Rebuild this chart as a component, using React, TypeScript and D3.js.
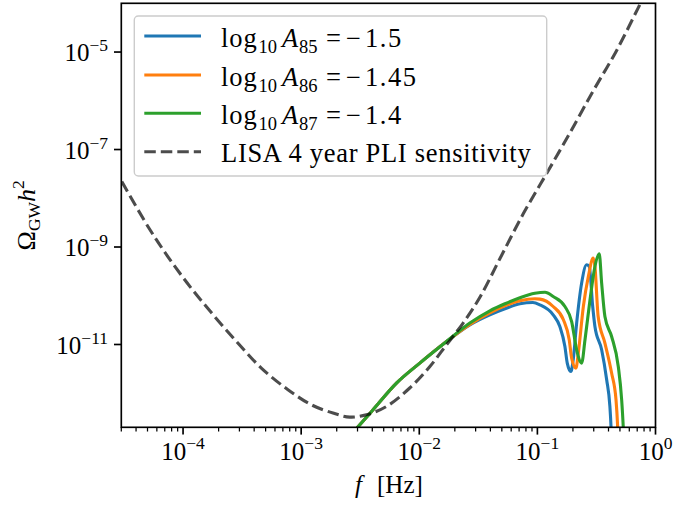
import React from 'react';
import * as d3 from 'd3';

// LISA 4-year power-law-integrated sensitivity
const lisaFreq = [3.03e-5, 5.04e-5, 7.43e-5, 1.17e-4, 1.85e-4, 2.91e-4, 4.6e-4, 7.73e-4, 1.22e-3, 1.86e-3, 2.58e-3, 3.57e-3, 5.27e-3, 8.3e-3, 1.23e-2, 1.7e-2, 2.35e-2, 3.26e-2, 4.81e-2, 7.59e-2, 0.12, 0.188, 0.297, 0.469, 0.714, 0.8];
const lisaOmega = [2.21e-8, 2.64e-9, 6.38e-10, 1.44e-10, 3.75e-11, 1.07e-11, 3.28e-12, 1.18e-12, 5.79e-13, 3.92e-13, 3.24e-13, 3.61e-13, 5.35e-13, 1.28e-12, 3.54e-12, 9.86e-12, 2.75e-11, 9.29e-11, 5.73e-10, 4.8e-9, 3.25e-8, 2.17e-7, 1.6e-6, 1.08e-5, 8.07e-5, 1.4e-4];

// log10 A85 = -1.5
const freqA85 = [2.69e-3, 3.03e-3, 4.06e-3, 6.41e-3, 1.01e-2, 1.7e-2, 2.68e-2, 3.96e-2, 5.31e-2, 7.11e-2, 9.16e-2, 0.105, 0.136, 0.155, 0.171, 0.179, 0.192, 0.201, 0.215, 0.237, 0.261, 0.275, 0.294, 0.307, 0.35, 0.386, 0.411, 0.42, 0.424];
const omegaA85 = [1.48e-13, 2.05e-13, 4.58e-13, 1.61e-12, 4.15e-12, 1.15e-11, 2.53e-11, 4.07e-11, 5.4e-11, 6.84e-11, 7.28e-11, 6.52e-11, 4.07e-11, 2.34e-11, 9.1e-12, 4.15e-12, 2.79e-12, 4.85e-12, 2.75e-11, 1.82e-10, 4.31e-10, 3.98e-10, 6.01e-11, 2.34e-11, 7.78e-12, 1.89e-12, 5.35e-13, 2.08e-13, 1.11e-13];

// log10 A86 = -1.45
const freqA86 = [2.69e-3, 3.03e-3, 4.06e-3, 6.41e-3, 1.01e-2, 1.7e-2, 2.68e-2, 3.96e-2, 5.31e-2, 7.11e-2, 9.52e-2, 0.105, 0.136, 0.166, 0.186, 0.195, 0.212, 0.222, 0.245, 0.27, 0.297, 0.307, 0.327, 0.373, 0.425, 0.463, 0.478, 0.483];
const omegaA86 = [1.48e-13, 2.05e-13, 4.58e-13, 1.61e-12, 4.15e-12, 1.15e-11, 2.59e-11, 4.47e-11, 6.22e-11, 7.87e-11, 8.65e-11, 8.53e-11, 6.02e-11, 3.21e-11, 1.25e-11, 5.26e-12, 3.28e-12, 6.66e-12, 6.02e-11, 2.48e-10, 5.92e-10, 3.98e-10, 3.75e-11, 1.07e-11, 2.59e-12, 7.35e-13, 2.08e-13, 1.11e-13];

// log10 A87 = -1.4
const freqA87 = [2.69e-3, 3.03e-3, 4.06e-3, 6.41e-3, 1.01e-2, 1.7e-2, 2.68e-2, 3.96e-2, 5.31e-2, 7.11e-2, 9.52e-2, 0.116, 0.136, 0.171, 0.195, 0.215, 0.237, 0.253, 0.279, 0.307, 0.334, 0.35, 0.373, 0.425, 0.484, 0.517, 0.533, 0.539];
const omegaA87 = [1.48e-13, 2.05e-13, 4.58e-13, 1.61e-12, 4.15e-12, 1.15e-11, 2.75e-11, 4.91e-11, 6.84e-11, 9.08e-11, 1.12e-10, 1.18e-10, 9.66e-11, 6.02e-11, 2.96e-11, 7.78e-12, 4.15e-12, 1.25e-11, 8.26e-11, 3.98e-10, 7.26e-10, 1.82e-10, 3.75e-11, 1.46e-11, 3.54e-12, 7.35e-13, 2.08e-13, 1.11e-13];

const seriesIndex = ['85', '86', '87'];
const seriesValues = ['1.5', '1.45', '1.4'];
const seriesColors = ['#1f77b4', '#ff7f0e', '#2ca02c'];
const lisaLabel = 'LISA 4 year PLI sensitivity';

const xDomain = [3e-5, 1];
const yDomain = [2e-13, 1e-4];
const xMajorTicks = [1e-4, 1e-3, 1e-2, 1e-1, 1];
const xMajorExp = ['−4', '−3', '−2', '−1', '0'];
const yMajorTicks = [1e-5, 1e-7, 1e-9, 1e-11];
const yMajorExp = ['−5', '−7', '−9', '−11'];

const W = 674;
const H = 506;
const PL = 121.3, PR = 655.5, PT = 3.3, PB = 427.3;
const FONT = '"Liberation Serif", "DejaVu Serif", serif';
const FS = 25;
const SFS = 17.5;
const LFS = 26.5;
const LSFS = 18.5;

export default function App() {
  const x = d3.scaleLog().domain(xDomain).range([PL, PR]);
  const y = d3.scaleLog().domain(yDomain).range([PB, PT]);
  const line = d3
    .line<[number, number]>()
    .x((d) => x(d[0]))
    .y((d) => y(d[1]))
    .curve(d3.curveMonotoneX);
  const smoothLine = d3
    .line<[number, number]>()
    .x((d) => x(d[0]))
    .y((d) => y(d[1]))
    .curve(d3.curveCatmullRom.alpha(0.5));

  const zip = (a: number[], b: number[]) => a.map((v, i) => [v, b[i]] as [number, number]);
  const series = [zip(freqA85, omegaA85), zip(freqA86, omegaA86), zip(freqA87, omegaA87)];
  const lisa = zip(lisaFreq, lisaOmega);

  const allXTicks = x.ticks();
  const minorX = allXTicks.filter((t) => Math.abs(Math.log10(t) - Math.round(Math.log10(t))) > 1e-6);

  const legendRows = [36, 75, 113.3, 151.7];

  return (
    <svg width={W} height={H} style={{ position: 'absolute', left: 0, top: 0, background: '#fff' }} fontFamily={FONT}>
      <defs>
        <clipPath id="plotclip">
          <rect x={PL} y={PT} width={PR - PL} height={PB - PT} />
        </clipPath>
      </defs>
      <rect x={0} y={0} width={W} height={H} fill="#fff" />
      <g clipPath="url(#plotclip)">
        {series.map((s, i) => (
          <path key={i} d={line(s) || ''} fill="none" stroke={seriesColors[i]} strokeWidth={3.1} strokeLinejoin="round" />
        ))}
        <path d={smoothLine(lisa) || ''} fill="none" stroke="#000" strokeOpacity={0.7} strokeWidth={3.1} strokeDasharray="11.5,5" />
      </g>
      {/* frame */}
      <rect x={PL} y={PT} width={PR - PL} height={PB - PT} fill="none" stroke="#000" strokeWidth={1.67} />
      {/* x ticks */}
      {minorX.map((t, i) => (
        <line key={'mx' + i} x1={x(t)} x2={x(t)} y1={PB} y2={PB + 4.2} stroke="#000" strokeWidth={1.25} />
      ))}
      {xMajorTicks.map((t, i) => (
        <g key={'x' + i}>
          <line x1={x(t)} x2={x(t)} y1={PB} y2={PB + 7.3} stroke="#000" strokeWidth={1.67} />
          <text x={x(t)} y={459.7} textAnchor="middle" fontSize={FS}>
            <tspan>10</tspan>
            <tspan dy={-11} fontSize={SFS}>{xMajorExp[i]}</tspan>
          </text>
        </g>
      ))}
      {/* y ticks */}
      {yMajorTicks.map((t, i) => (
        <g key={'y' + i}>
          <line x1={PL} x2={PL - 7.3} y1={y(t)} y2={y(t)} stroke="#000" strokeWidth={1.67} />
          <text x={108} y={y(t) + 9.2} textAnchor="end" fontSize={FS}>
            <tspan>10</tspan>
            <tspan dy={-10} fontSize={SFS}>{yMajorExp[i]}</tspan>
          </text>
        </g>
      ))}
      {/* axis labels */}
      <text y={492.5} fontSize={FS}>
        <tspan x={355} fontStyle="italic">f</tspan>
        <tspan x={377}>[Hz]</tspan>
      </text>
      <text transform={`translate(35, ${(PT + PB) / 2}) rotate(-90)`} textAnchor="middle" fontSize={26}>
        <tspan>Ω</tspan>
        <tspan dy={5} fontSize={SFS}>GW</tspan>
        <tspan dy={-5} fontStyle="italic">h</tspan>
        <tspan dy={-11} fontSize={SFS}>2</tspan>
      </text>
      {/* legend */}
      <rect x={134.3} y={16} width={412.4} height={160} rx={4} ry={4} fill="#fff" fillOpacity={0.8} stroke="#cccccc" strokeWidth={1.4} />
      {seriesColors.map((c, i) => {
        const yb = legendRows[i] + 10.5;
        return (
          <g key={'lg' + i}>
            <line x1={144.3} x2={201} y1={legendRows[i]} y2={legendRows[i]} stroke={c} strokeWidth={3.1} />
            <text y={yb} fontSize={LFS}>
              <tspan x={221} letterSpacing={1}>log</tspan>
              <tspan x={258.5} y={yb + 6} fontSize={LSFS}>10</tspan>
              <tspan x={282} y={yb} fontStyle="italic">A</tspan>
              <tspan x={299} y={yb + 6} fontSize={LSFS}>{seriesIndex[i]}</tspan>
              <tspan x={326} y={yb}>=</tspan>
              <tspan x={346} y={yb}>−</tspan>
              <tspan x={365} y={yb} letterSpacing={1.5}>{seriesValues[i]}</tspan>
            </text>
          </g>
        );
      })}
      <line x1={144.3} x2={201} y1={legendRows[3]} y2={legendRows[3]} stroke="#000" strokeOpacity={0.7} strokeWidth={3.1} strokeDasharray="11.5,5" />
      <text x={221} y={legendRows[3] + 10.5} fontSize={LFS} letterSpacing={0.7}>{lisaLabel}</text>
    </svg>
  );
}
